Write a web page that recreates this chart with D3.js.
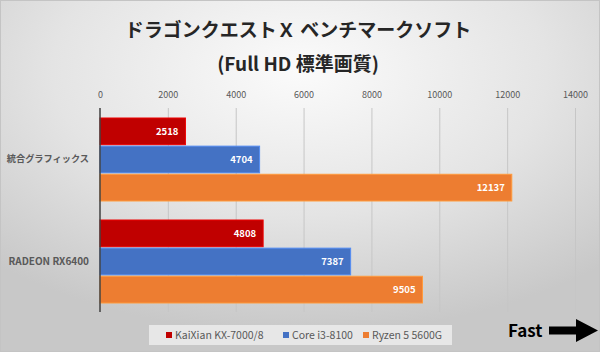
<!DOCTYPE html>
<html>
<head>
<meta charset="utf-8">
<script src="https://cdn.jsdelivr.net/npm/d3@7"></script>
<style>
  body { margin: 0; padding: 0; }
  svg { display: block; font-family: "Noto Sans CJK JP", "Noto Sans", sans-serif; }
</style>
</head>
<body>
<div id="chart"></div>
<script>
// Data
const categories = ["統合グラフィックス", "RADEON RX6400"];
const seriesNames = ["KaiXian KX-7000/8", "Core i3-8100", "Ryzen 5 5600G"];
const kaixianValues = [2518, 4808];
const coreValues = [4704, 7387];
const ryzenValues = [12137, 9505];
const tickValues = [0, 2000, 4000, 6000, 8000, 10000, 12000, 14000];
const seriesColors = ["#C00000", "#4472C4", "#ED7D31"];

const seriesValues = [kaixianValues, coreValues, ryzenValues];

// Dimensions
const width = 600, height = 352;
const plot = { left: 100, right: 575, top: 108, bottom: 312 };

const svg = d3.select("#chart")
    .append("svg")
    .attr("width", width)
    .attr("height", height);

// Background gradient
const defs = svg.append("defs");
const grad = defs.append("radialGradient")
    .attr("id", "bg")
    .attr("cx", "50%").attr("cy", "20%")
    .attr("r", "75%");
grad.append("stop").attr("offset", "0%").attr("stop-color", "#fbfbfb");
grad.append("stop").attr("offset", "55%").attr("stop-color", "#e4e4e4");
grad.append("stop").attr("offset", "100%").attr("stop-color", "#c8c8c8");

svg.append("rect")
    .attr("x", 0.5).attr("y", 0.5)
    .attr("width", width - 1).attr("height", height - 1)
    .attr("fill", "url(#bg)")
    .attr("stroke", "#c4c4c4");

// Title
svg.append("text")
    .attr("x", 298).attr("y", 37)
    .attr("text-anchor", "middle")
    .attr("font-size", 19).attr("font-weight", "bold")
    .attr("fill", "#262626")
    .text("ドラゴンクエストＸ ベンチマークソフト");

svg.append("text")
    .attr("x", 298).attr("y", 71)
    .attr("text-anchor", "middle")
    .attr("font-size", 19).attr("font-weight", "bold")
    .attr("fill", "#262626")
    .text("(Full HD 標準画質)");

// Scales
const xScale = d3.scaleLinear()
    .domain([0, 14000])
    .range([plot.left, plot.right]);

const yScale = d3.scaleBand()
    .domain(categories)
    .range([plot.top, plot.bottom]);

const yInner = d3.scaleBand()
    .domain(seriesNames)
    .range([10, yScale.bandwidth() - 9])
    .paddingInner(0.05);

// Top axis with gridlines
const axis = svg.append("g")
    .attr("transform", `translate(0, ${plot.top})`)
    .call(d3.axisTop(xScale)
        .tickValues(tickValues)
        .tickSize(-(plot.bottom - plot.top))
        .tickPadding(10)
        .tickFormat(d3.format("d")));

axis.select(".domain").remove();
axis.selectAll(".tick line")
    .attr("stroke", "#c6c6c6")
    .attr("stroke-width", 1)
    .filter(d => d === 0).remove();
axis.selectAll(".tick text")
    .attr("fill", "#595959")
    .attr("font-size", 9)
    .attr("font-family", "'Noto Sans CJK JP', 'Noto Sans', sans-serif");

// Bars
const groups = svg.append("g")
    .selectAll("g")
    .data(categories)
    .join("g")
    .attr("transform", d => `translate(0, ${yScale(d)})`);

groups.selectAll("rect")
    .data((c, i) => seriesNames.map((s, j) => ({ series: s, value: seriesValues[j][i], color: seriesColors[j] })))
    .join("rect")
    .attr("x", xScale(0))
    .attr("y", d => yInner(d.series))
    .attr("width", d => xScale(d.value) - xScale(0))
    .attr("height", yInner.bandwidth())
    .attr("fill", d => d.color)
    .attr("stroke", d => d3.color(d.color).brighter(0.6))
    .attr("stroke-width", 1);

groups.selectAll("text.value")
    .data((c, i) => seriesNames.map((s, j) => ({ series: s, value: seriesValues[j][i] })))
    .join("text")
    .attr("class", "value")
    .attr("x", d => xScale(d.value) - 7)
    .attr("y", d => yInner(d.series) + yInner.bandwidth() / 2)
    .attr("dy", "0.35em")
    .attr("text-anchor", "end")
    .attr("font-size", 9.5).attr("font-weight", "bold")
    .attr("fill", "#ffffff")
    .text(d => d.value);

// Category axis line
svg.append("line")
    .attr("x1", xScale(0)).attr("x2", xScale(0))
    .attr("y1", plot.top).attr("y2", plot.bottom)
    .attr("stroke", "#404040")
    .attr("stroke-width", 1.5);

// Category labels (CJK label is set a touch smaller, as in the source)
svg.append("g")
    .selectAll("text")
    .data(categories)
    .join("text")
    .attr("x", 89)
    .attr("y", d => yScale(d) + yScale.bandwidth() / 2)
    .attr("dy", "0.35em")
    .attr("text-anchor", "end")
    .attr("font-size", d => /[^\x00-\x7F]/.test(d) ? 9.2 : 10)
    .attr("font-weight", "bold")
    .attr("fill", "#595959")
    .text(d => d);

// Legend
svg.append("rect")
    .attr("x", 149).attr("y", 325)
    .attr("width", 303).attr("height", 20)
    .attr("fill", "#ececec")
    .attr("opacity", 0.85);

const legendX = [166, 283, 363];
const legend = svg.append("g")
    .selectAll("g")
    .data(seriesNames)
    .join("g")
    .attr("transform", (d, i) => `translate(${legendX[i]}, 335)`);

legend.append("rect")
    .attr("x", 0).attr("y", -3)
    .attr("width", 6).attr("height", 6)
    .attr("fill", (d, i) => seriesColors[i]);

legend.append("text")
    .attr("x", 9).attr("dy", "0.35em")
    .attr("font-size", 10.5)
    .attr("fill", "#595959")
    .text(d => d);

// "Fast" arrow
svg.append("text")
    .attr("x", 508).attr("y", 337)
    .attr("font-size", 17).attr("font-weight", "bold")
    .attr("fill", "#000")
    .text("Fast");

svg.append("path")
    .attr("d", "M549,326.5 L576,326.5 L576,319 L598,330.5 L576,342 L576,334.5 L549,334.5 Z")
    .attr("fill", "#000");
</script>
</body>
</html>
